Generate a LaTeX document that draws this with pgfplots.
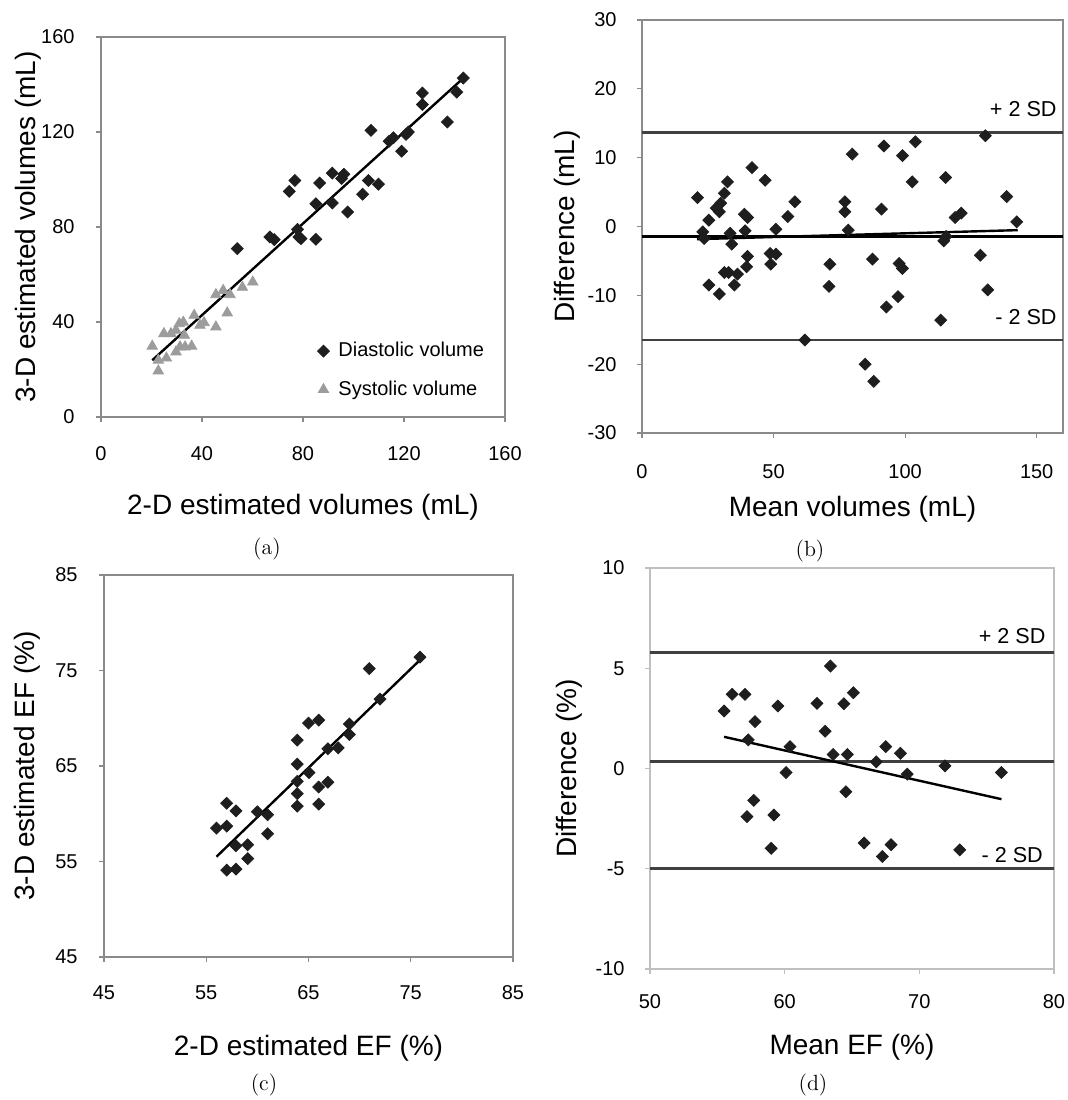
\documentclass[border=0pt]{standalone}
\usepackage{fontspec}
\usepackage{pgfplots}
\pgfplotsset{compat=1.18}
\newfontfamily\arial{Liberation Sans}
\definecolor{mk}{HTML}{1E1E1E}
\definecolor{tri}{HTML}{9C9C9C}
\definecolor{sdline}{HTML}{404040}
\definecolor{frame}{HTML}{8A8A8A}

\pgfplotsset{
  panel/.style={
    scale only axis,
    anchor=south west,
    font=\arial,
    axis line style={frame, line width=0.7pt},
    tick style={frame, line width=0.6pt},
    tick align=outside,
    major tick length=2.5pt,
    xtick pos=bottom, ytick pos=left,
    /pgf/number format/assume math mode=true,
    ticklabel style={font=\arial\fontsize{10}{11}\selectfont, inner sep=0pt},
    label style={font=\arial\fontsize{14}{16}\selectfont},
    xticklabel style={anchor=center},
    yticklabel style={anchor=east},
    clip=false,
  },
  dia/.style={only marks, mark=square*, mark size=2.1pt,
    mark options={rotate=45, fill=mk, draw=mk}, color=mk},
  reg/.style={no marks, black, line width=1.2pt},
  sd/.style={no marks, sdline, line width=1.4pt},
}

\begin{document}
\begin{tikzpicture}
\path[use as bounding box] (0,0) rectangle (534pt,550pt);

% (a) volumes
\begin{axis}[panel,
  at={(50.5pt,341.5pt)}, width=202pt, height=190pt,
  xmin=0, xmax=160, ymin=0, ymax=160,
  xtick={0,40,80,120,160}, ytick={0,40,80,120,160},
  xticklabel style={yshift=-16pt},
  yticklabel style={xshift=-10.5pt},
  xlabel={2-D estimated volumes (mL)},
  ylabel={3-D estimated volumes (mL)},
  xlabel style={at={(axis description cs:0.5,-0.238)}, anchor=center},
  ylabel style={at={(axis description cs:-0.181,0.5)}, anchor=center},
  legend style={at={(axis description cs:0.535,0.208)}, anchor=north west,
    draw=none, fill=none, font=\arial\fontsize{10}{12}\selectfont,
    row sep=6.5pt, column sep=2.5pt, inner sep=0pt},
  legend cell align=left,
]
\addplot[dia] coordinates {
(143.5,142.7) (140.9,136.8) (127.3,136.4) (127.3,131.6) (137.2,124.2)
(106.9,120.7) (114.1,116.1) (115.8,117.6) (120.8,119.0) (121.7,120.0)
(119.1,111.9) (76.8,99.6) (74.6,95.0) (86.6,98.5) (91.6,102.7)
(95.3,100.4) (96.2,102.2) (105.9,99.6) (109.9,98.0) (85.1,89.8)
(91.6,90.1) (103.6,93.8) (97.7,86.3) (66.9,75.8) (68.6,74.7)
(77.8,79.0) (78.4,75.8) (79.2,75.1) (85.1,74.8) (54.0,70.9)
};
\addlegendentry{Diastolic volume}
\addplot[only marks, mark=triangle*, mark size=3pt,
  mark options={fill=tri, draw=tri}, color=tri] coordinates {
(20.3,29.8) (22.7,23.9) (22.7,19.4) (25.9,24.8) (24.9,35.1)
(27.7,35.1) (29.7,36.5) (31.0,39.3) (32.6,39.9) (33.0,34.4)
(29.7,27.4) (31.3,29.5) (33.3,29.5) (35.9,29.8) (36.9,42.8)
(39.2,38.6) (40.8,39.7) (45.5,37.9) (45.5,51.5) (48.4,53.3)
(51.1,51.5) (50.0,43.8) (56.0,54.6) (60.1,56.8)
};
\addlegendentry{Systolic volume}
\addplot[reg, forget plot] coordinates {(20.3,23.9) (142.8,142.0)};
\end{axis}

% (b) volume differences
\begin{axis}[panel,
  at={(321pt,333.5pt)}, width=210.5pt, height=206.5pt,
  xmin=0, xmax=160, ymin=-30, ymax=30,
  xtick={0,50,100,150}, ytick={-30,-20,-10,0,10,20,30},
  xticklabel style={yshift=-17pt},
  yticklabel style={xshift=-10pt},
  xlabel={Mean volumes (mL)},
  ylabel={Difference (mL)},
  xlabel style={at={(axis description cs:0.5,-0.184)}, anchor=center},
  ylabel style={at={(axis description cs:-0.178,0.5)}, anchor=center},
]
\addplot[sd] coordinates {(0,13.6) (160,13.6)};
\addplot[sd] coordinates {(0,-16.5) (160,-16.5)};
\addplot[no marks, black, line width=1.5pt] coordinates {(0,-1.45) (160,-1.45)};
\addplot[dia] coordinates {
(21.1,4.2) (23.1,-0.77) (23.6,-1.74) (25.4,0.92) (25.4,-8.5)
(28.2,2.66) (29.4,2.13) (29.9,3.39) (29.4,-9.8) (31.3,4.84)
(32.5,6.48) (33.5,-0.97) (34.1,-2.56) (31.3,-6.68) (32.9,-6.68)
(36.3,-6.92) (35.1,-8.5) (38.9,1.79) (40.1,1.31) (39.2,-0.63)
(40.1,-4.35) (39.8,-5.85) (41.8,8.56) (46.8,6.72) (48.7,-3.92)
(50.9,-4.02) (50.9,-0.39) (48.9,-5.47) (55.4,1.45) (58.1,3.58)
(61.9,-16.5) (77.1,3.58) (77.1,2.13) (78.4,-0.53) (79.9,10.5)
(71.4,-5.47) (71.1,-8.7) (84.8,-20.0) (88.1,-22.5) (87.6,-4.74)
(91.0,2.52) (91.9,11.7) (92.9,-11.7) (97.3,-10.2) (97.7,-5.37)
(99.0,-6.10) (99.0,10.3) (102.7,6.48) (103.9,12.3) (113.5,-13.6)
(115.4,7.11) (114.7,-2.08) (115.6,-1.45) (119.0,1.31) (121.3,1.94)
(128.6,-4.16) (130.5,13.2) (131.4,-9.2) (138.6,4.35) (142.4,0.68)
};
\addplot[reg] coordinates {(20.9,-1.84) (142.8,-0.53)};
\node[anchor=east, inner sep=0pt, font=\arial\fontsize{10.8}{12}\selectfont]
  at (axis cs:157.7,17.0) {+ 2 SD};
\node[anchor=east, inner sep=0pt, font=\arial\fontsize{10.8}{12}\selectfont]
  at (axis cs:157.7,-13.1) {- 2 SD};
\end{axis}

% (c) EF
\begin{axis}[panel,
  at={(52pt,71.5pt)}, width=204.5pt, height=191pt,
  xmin=45, xmax=85, ymin=45, ymax=85,
  xtick={45,55,65,75,85}, ytick={45,55,65,75,85},
  xticklabel style={yshift=-15.5pt},
  yticklabel style={xshift=-10.5pt},
  xlabel={2-D estimated EF (\%)},
  ylabel={3-D estimated EF (\%)},
  xlabel style={at={(axis description cs:0.5,-0.238)}, anchor=center},
  ylabel style={at={(axis description cs:-0.187,0.5)}, anchor=center},
]
\addplot[dia] coordinates {
(75.9,76.4) (70.95,75.2) (72.0,72.0) (66.0,69.8) (65.0,69.5)
(69.0,69.4) (69.0,68.3) (63.9,67.7) (66.9,66.8) (67.9,66.9)
(63.9,65.2) (65.05,64.3) (63.9,63.4) (66.0,62.8) (66.9,63.3)
(63.9,62.1) (63.9,60.8) (66.0,61.0) (57.0,61.1) (57.9,60.3)
(60.0,60.2) (61.0,59.9) (61.0,57.9) (56.0,58.5) (57.0,58.7)
(57.9,56.65) (59.05,56.75) (59.05,55.3) (57.0,54.1) (57.9,54.2)
};
\addplot[reg] coordinates {(56.0,55.5) (75.9,76.1)};
\end{axis}

% (d) EF differences
\begin{axis}[panel,
  at={(325pt,65.5pt)}, width=202pt, height=200.5pt,
  xmin=50, xmax=80, ymin=-10, ymax=10,
  xtick={50,60,70,80}, ytick={-10,-5,0,5,10},
  axis line style={frame!55, line width=0.7pt},
  tick style={frame!55, line width=0.6pt},
  xticklabel style={yshift=-14pt},
  yticklabel style={xshift=-10pt},
  xlabel={Mean EF (\%)},
  ylabel={Difference (\%)},
  xlabel style={at={(axis description cs:0.5,-0.195)}, anchor=center},
  ylabel style={at={(axis description cs:-0.200,0.5)}, anchor=center},
]
\addplot[sd] coordinates {(50,5.8) (80,5.8)};
\addplot[sd] coordinates {(50,0.35) (80,0.35)};
\addplot[sd] coordinates {(50,-5.0) (80,-5.0)};
\addplot[dia] coordinates {
(55.5,2.87) (56.1,3.70) (57.05,3.70) (57.3,1.43) (57.8,2.34)
(57.2,-2.40) (57.7,-1.59) (59.5,3.12) (59.2,-2.32) (59.0,-3.98)
(60.4,1.09) (60.1,-0.2) (62.4,3.25) (63.0,1.86) (63.4,5.11)
(63.6,0.70) (64.4,3.23) (64.65,0.70) (64.55,-1.16) (65.1,3.78)
(65.9,-3.71) (66.8,0.33) (67.5,1.09) (67.25,-4.39) (67.9,-3.80)
(68.6,0.76) (69.1,-0.28) (71.9,0.13) (73.0,-4.06) (76.1,-0.2)
};
\addplot[reg] coordinates {(55.5,1.58) (76.1,-1.53)};
\node[anchor=east, inner sep=0pt, font=\arial\fontsize{10.8}{12}\selectfont]
  at (axis cs:79.4,6.6) {+ 2 SD};
\node[anchor=east, inner sep=0pt, font=\arial\fontsize{10.8}{12}\selectfont]
  at (axis cs:79.2,-4.3) {- 2 SD};
\end{axis}

\node[font=\fontsize{11}{13}\selectfont] at (133.5pt,275.5pt) {(a)};
\node[font=\fontsize{11}{13}\selectfont] at (405pt,274.5pt) {(b)};
\node[font=\fontsize{11}{13}\selectfont] at (132pt,7.5pt) {(c)};
\node[font=\fontsize{11}{13}\selectfont] at (406.5pt,7.5pt) {(d)};
\end{tikzpicture}
\end{document}
